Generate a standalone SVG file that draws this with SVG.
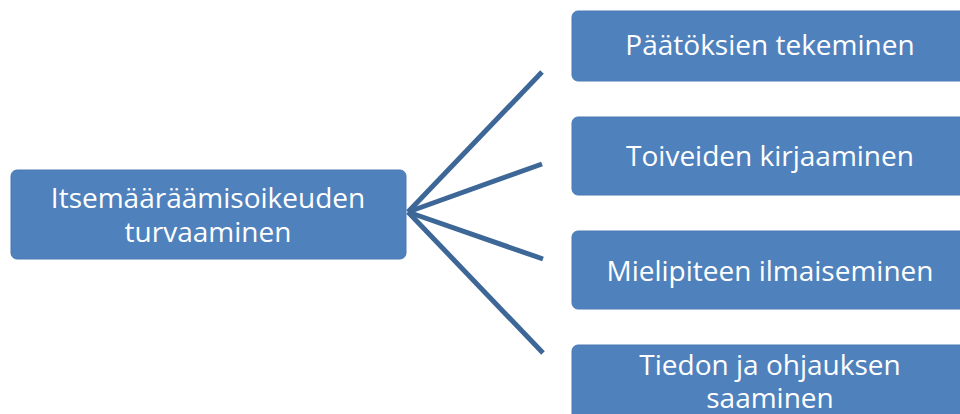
<svg xmlns="http://www.w3.org/2000/svg" width="960" height="414" viewBox="0 0 960 414">
<style>
.box{fill:#4f81bd;stroke:#4a7ab4;stroke-width:1}
.lbl{font-family:"Open Sans","Liberation Sans",sans-serif;font-size:28px;fill:#ffffff;text-anchor:middle}
.con{stroke:#3d6797;stroke-width:5;stroke-linecap:butt;fill:none}
</style>
<rect width="960" height="414" fill="#ffffff"/>
<g id="connectors">
<line class="con" x1="408" y1="212" x2="542" y2="72"/>
<line class="con" x1="408" y1="212" x2="542" y2="164"/>
<line class="con" x1="408" y1="212" x2="543" y2="259"/>
<line class="con" x1="408" y1="212" x2="543" y2="353"/>
</g>
<g id="root">
<rect class="box" x="11" y="170" width="395" height="89" rx="6"/>
<text class="lbl" x="208" y="208">Itsemääräämisoikeuden</text>
<text class="lbl" x="208" y="242">turvaaminen</text>
</g>
<g id="n1">
<rect class="box" x="572" y="11" width="396" height="70" rx="6"/>
<text class="lbl" x="770" y="55">Päätöksien tekeminen</text>
</g>
<g id="n2">
<rect class="box" x="572" y="117" width="396" height="78" rx="6"/>
<text class="lbl" x="770" y="166">Toiveiden kirjaaminen</text>
</g>
<g id="n3">
<rect class="box" x="572" y="231" width="396" height="78" rx="6"/>
<text class="lbl" x="770" y="281">Mielipiteen ilmaiseminen</text>
</g>
<g id="n4">
<rect class="box" x="572" y="345" width="396" height="80" rx="6"/>
<text class="lbl" x="770" y="375">Tiedon ja ohjauksen</text>
<text class="lbl" x="770" y="408">saaminen</text>
</g>
</svg>
